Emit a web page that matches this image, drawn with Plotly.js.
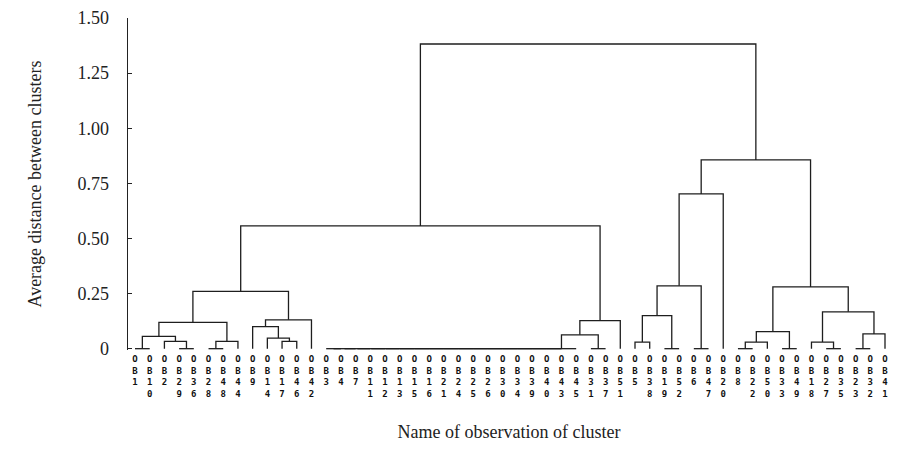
<!DOCTYPE html>
<html><head><meta charset="utf-8">
<script src="https://cdn.plot.ly/plotly-3.0.1.min.js"></script>
<style>html,body{margin:0;padding:0;background:#fff}</style>
</head><body><div id="chart" style="width:907px;height:452px"></div>
<script>
// Leaf order along the x axis
const leafLabels = ["OB1","OB10","OB2","OB29","OB36","OB28","OB48","OB44","OB9","OB14","OB17","OB46","OB42",
  "OB3","OB4","OB7","OB11","OB12","OB13","OB15","OB16","OB21","OB24","OB25","OB26","OB30","OB34","OB39","OB40","OB43","OB45",
  "OB31","OB37","OB51","OB5","OB38","OB19","OB52","OB6","OB47","OB20","OB8","OB22","OB50","OB33","OB49","OB18","OB27","OB35","OB23","OB32","OB41"];

// Merges: strings = leaves, numbers = index of an earlier merge
const mergeLeft  = ["OB1","OB29","OB2",0,"OB28",4,3,"OB17","OB14","OB9",9,6,
  "OB3",12,13,14,15,16,17,18,19,20,21,22,23,24,25,26,27,
  "OB31",28,30,11,
  "OB5","OB19",33,"OB6",35,37,
  "OB8",39,"OB33",40,"OB27","OB18","OB23",45,44,42,38,32];
const mergeRight = ["OB10","OB36",1,2,"OB48","OB44",5,"OB46",7,8,"OB42",10,
  "OB4","OB7","OB11","OB12","OB13","OB15","OB16","OB21","OB24","OB25","OB26","OB30","OB34","OB39","OB40","OB43","OB45",
  "OB37",29,"OB51",31,
  "OB38","OB52",34,"OB47",36,"OB20",
  "OB22","OB50","OB49",41,"OB35",43,"OB32","OB41",46,47,48,49];
const mergeHeight = [0,0,0.033,0.056,0,0.033,0.119,0.033,0.048,0.10,0.131,0.26,
  0,0,0,0,0,0,0,0,0,0,0,0,0,0,0,0,0,
  0,0.063,0.127,0.557,
  0.03,0,0.15,0,0.285,0.702,
  0,0.03,0,0.077,0,0.03,0,0.067,0.167,0.28,0.856,1.382];

const yTickVals = [0,0.25,0.5,0.75,1,1.25,1.5];
const yTickText = ["0","0.25","0.50","0.75","1.00","1.25","1.50"];

const leafPos = {};
leafLabels.forEach((l,i)=>{ leafPos[l] = i+1; });
const nodeX = [], nodeY = [];
const cx = c => typeof c === 'number' ? nodeX[c] : leafPos[c];
const cy = c => typeof c === 'number' ? nodeY[c] : 0;
const xs = [], ys = [];
for (let k = 0; k < mergeHeight.length; k++) {
  const a = mergeLeft[k], b = mergeRight[k], h = mergeHeight[k];
  xs.push(cx(a), cx(a), cx(b), cx(b), null);
  ys.push(cy(a), h, h, cy(b), null);
  nodeX[k] = (cx(a) + cx(b)) / 2;
  nodeY[k] = h;
}

const serif = "Liberation Serif, Times New Roman, serif";
Plotly.newPlot('chart', [{
  type: 'scatter', mode: 'lines', x: xs, y: ys,
  line: {color: '#1e1e1e', width: 1.3},
  hoverinfo: 'skip', showlegend: false
}], {
  width: 907, height: 452,
  margin: {l: 128, r: 17, t: 18, b: 102},
  paper_bgcolor: '#ffffff', plot_bgcolor: '#ffffff',
  xaxis: {
    range: [0.524, 52.34],
    tickmode: 'array',
    tickvals: leafLabels.map((_, i) => i + 1),
    ticktext: leafLabels.map(s => s.split('').join('<br>')),
    tickangle: 0,
    ticks: '', showline: false, showgrid: false, zeroline: false,
    tickfont: {family: 'DejaVu Sans Mono', size: 9, color: '#111', weight: 'bold'},
    ticklabelstandoff: 2,
    title: {text: 'Name of observation of cluster', font: {family: serif, size: 18, color: '#222'}, standoff: 27}
  },
  yaxis: {
    range: [-0.006, 1.5],
    tickmode: 'array', tickvals: yTickVals, ticktext: yTickText,
    ticks: 'inside', ticklen: 4, tickcolor: '#222', tickwidth: 1,
    showline: true, linecolor: '#222', linewidth: 1.3,
    showgrid: false, zeroline: false,
    tickfont: {family: serif, size: 18, color: '#222'},
    ticklabelstandoff: 14,
    title: {text: 'Average distance between clusters', font: {family: serif, size: 18, color: '#222'}, standoff: 31}
  }
}, {displayModeBar: false, staticPlot: true});
</script></body></html>
